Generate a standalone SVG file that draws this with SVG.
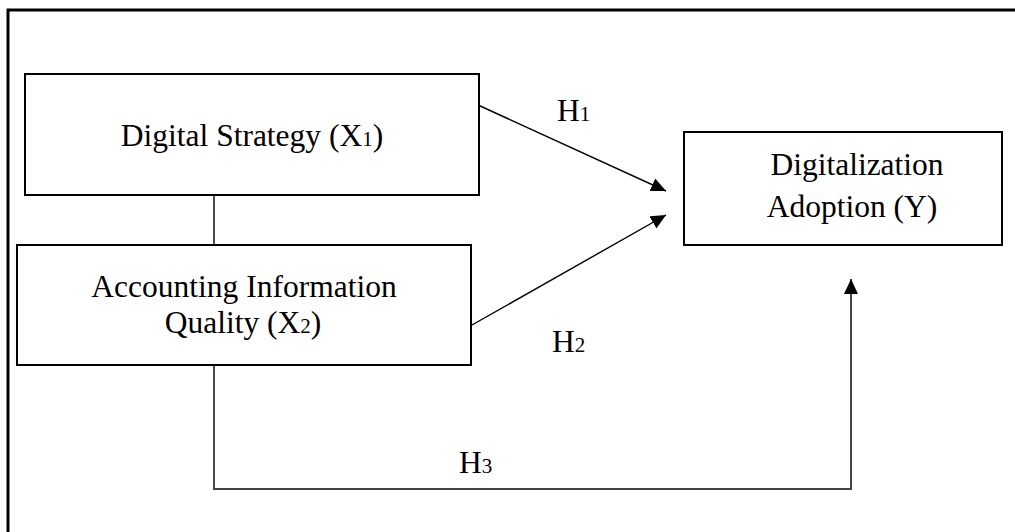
<svg xmlns="http://www.w3.org/2000/svg" width="1015" height="532" viewBox="0 0 1015 532">
<style>
.box{fill:#fff;stroke:#000;stroke-width:2}
.t{font-family:"Liberation Serif","Times New Roman",serif;font-size:31.5px;fill:#000}
.sub{font-size:21px}
.c{fill:none;stroke:#000;stroke-width:1.4}
.g{fill:none;stroke:#444;stroke-width:2}
</style>
<defs>
<marker id="ah" viewBox="0 0 15 14" refX="15" refY="7" markerWidth="15" markerHeight="14" markerUnits="userSpaceOnUse" orient="auto">
<path d="M0,0 L15,7 L0,14 z" fill="#000"/>
</marker>
</defs>
<rect x="8" y="10" width="1030" height="550" fill="#fff" stroke="#000" stroke-width="3"/>
<g id="connectors">
<line class="c" x1="214" y1="195" x2="214" y2="245"/>
<line class="c" x1="478" y1="105" x2="666" y2="191" marker-end="url(#ah)"/>
<line class="c" x1="472" y1="325" x2="666" y2="215" marker-end="url(#ah)"/>
<line class="c" x1="214" y1="365" x2="214" y2="489"/>
<polyline class="g" points="213,489 851,489 851,279" marker-end="url(#ah)"/>
<text class="t" x="557" y="121">H<tspan class="sub">1</tspan></text>
<text class="t" x="552" y="352">H<tspan class="sub">2</tspan></text>
<text class="t" x="459" y="473">H<tspan class="sub">3</tspan></text>
</g>
<g id="x1">
<rect class="box" x="25" y="74" width="454" height="121"/>
<text class="t" x="252" y="146" text-anchor="middle">Digital Strategy (X<tspan class="sub">1</tspan>)</text>
</g>
<g id="x2">
<rect class="box" x="17" y="245" width="454" height="120"/>
<text class="t" x="244" y="297" text-anchor="middle">Accounting Information</text>
<text class="t" x="243" y="333" text-anchor="middle">Quality (X<tspan class="sub">2</tspan>)</text>
</g>
<g id="y">
<rect class="box" x="684" y="132" width="318" height="113"/>
<text class="t" x="857" y="175" text-anchor="middle">Digitalization</text>
<text class="t" x="852" y="217" text-anchor="middle">Adoption (Y)</text>
</g>
</svg>
